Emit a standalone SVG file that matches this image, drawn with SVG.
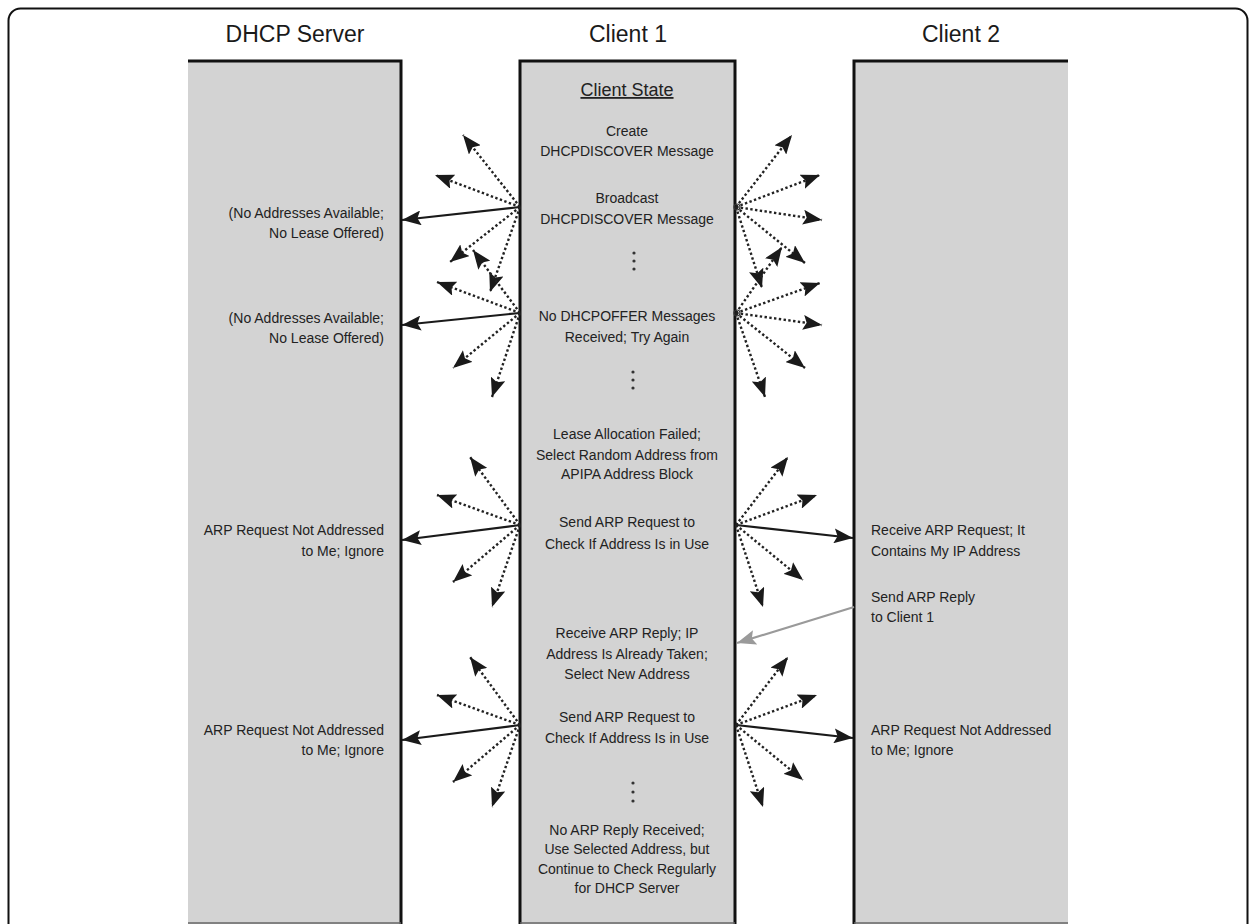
<svg xmlns="http://www.w3.org/2000/svg" width="1250" height="924" viewBox="0 0 1250 924">
<style>
.hdr{font-family:"Liberation Sans",Arial,sans-serif;font-size:23px;fill:#1a1a1a;text-anchor:middle}
.t{font-family:"Liberation Sans",Arial,sans-serif;font-size:14px;fill:#222}
.c{text-anchor:middle}
.r{text-anchor:end}
.l{text-anchor:start}
.col{fill:#d3d3d3}
.bd{stroke:#111;stroke-width:3;fill:none}
.dot{stroke:#222;stroke-width:2.4;stroke-dasharray:2.4 2.4;fill:none}
.sol{stroke:#1a1a1a;stroke-width:2.2;fill:none}
.gry{stroke:#9a9a9a;stroke-width:2.2;fill:none}
.vd{fill:#333}
</style>
<defs>
<marker id="ah" markerUnits="userSpaceOnUse" markerWidth="19" markerHeight="15" viewBox="0 0 19 15" refX="19" refY="7.5" orient="auto">
<path d="M0,0 L19,7.5 L0,15 L3.5,7.5 z" fill="#1a1a1a"/>
</marker>
<marker id="ahg" markerUnits="userSpaceOnUse" markerWidth="19" markerHeight="15" viewBox="0 0 19 15" refX="19" refY="7.5" orient="auto">
<path d="M0,0 L19,7.5 L0,15 L3.5,7.5 z" fill="#9a9a9a"/>
</marker>
</defs>
<rect x="0" y="0" width="1250" height="924" fill="#ffffff"/>
<rect x="8.5" y="8.5" width="1239" height="960" rx="12" fill="none" stroke="#111" stroke-width="2"/>

<g id="dhcp-server">
<rect class="col" x="188" y="61" width="213" height="863"/>
<path class="bd" d="M188,61 H401 V924"/>
<line x1="188" y1="923" x2="401" y2="923" stroke="#666" stroke-width="1.5"/>
<text class="hdr" x="295" y="42">DHCP Server</text>
<text class="t r" x="384" y="218">(No Addresses Available;</text>
<text class="t r" x="384" y="238">No Lease Offered)</text>
<text class="t r" x="384" y="323">(No Addresses Available;</text>
<text class="t r" x="384" y="343">No Lease Offered)</text>
<text class="t r" x="384" y="535">ARP Request Not Addressed</text>
<text class="t r" x="384" y="556">to Me; Ignore</text>
<text class="t r" x="384" y="735">ARP Request Not Addressed</text>
<text class="t r" x="384" y="755">to Me; Ignore</text>
</g>

<g id="client-1">
<rect class="col" x="520" y="61" width="215" height="863"/>
<path class="bd" d="M520,924 V61 H735 V924"/>
<line x1="520" y1="923" x2="735" y2="923" stroke="#666" stroke-width="1.5"/>
<text class="hdr" x="628" y="42">Client 1</text>
<text class="t c" x="627" y="96" style="font-size:18px" text-decoration="underline">Client State</text>
<text class="t c" x="627" y="136">Create</text>
<text class="t c" x="627" y="156">DHCPDISCOVER Message</text>
<text class="t c" x="627" y="203">Broadcast</text>
<text class="t c" x="627" y="224">DHCPDISCOVER Message</text>
<circle class="vd" cx="634" cy="253" r="1.6"/><circle class="vd" cx="634" cy="261" r="1.6"/><circle class="vd" cx="634" cy="269" r="1.6"/>
<text class="t c" x="627" y="321">No DHCPOFFER Messages</text>
<text class="t c" x="627" y="342">Received; Try Again</text>
<circle class="vd" cx="633" cy="372" r="1.6"/><circle class="vd" cx="633" cy="380" r="1.6"/><circle class="vd" cx="633" cy="388" r="1.6"/>
<text class="t c" x="627" y="439">Lease Allocation Failed;</text>
<text class="t c" x="627" y="460">Select Random Address from</text>
<text class="t c" x="627" y="479">APIPA Address Block</text>
<text class="t c" x="627" y="527">Send ARP Request to</text>
<text class="t c" x="627" y="549">Check If Address Is in Use</text>
<text class="t c" x="627" y="638">Receive ARP Reply; IP</text>
<text class="t c" x="627" y="659">Address Is Already Taken;</text>
<text class="t c" x="627" y="679">Select New Address</text>
<text class="t c" x="627" y="722">Send ARP Request to</text>
<text class="t c" x="627" y="743">Check If Address Is in Use</text>
<circle class="vd" cx="633" cy="783" r="1.6"/><circle class="vd" cx="633" cy="792" r="1.6"/><circle class="vd" cx="633" cy="801" r="1.6"/>
<text class="t c" x="627" y="835">No ARP Reply Received;</text>
<text class="t c" x="627" y="854">Use Selected Address, but</text>
<text class="t c" x="627" y="874">Continue to Check Regularly</text>
<text class="t c" x="627" y="893">for DHCP Server</text>
</g>

<g id="client-2">
<rect class="col" x="854" y="61" width="214" height="863"/>
<path class="bd" d="M854,924 V61 H1068"/>
<line x1="854" y1="923" x2="1068" y2="923" stroke="#666" stroke-width="1.5"/>
<text class="hdr" x="961" y="42">Client 2</text>
<text class="t l" x="871" y="535">Receive ARP Request; It</text>
<text class="t l" x="871" y="556">Contains My IP Address</text>
<text class="t l" x="871" y="602">Send ARP Reply</text>
<text class="t l" x="871" y="622">to Client 1</text>
<text class="t l" x="871" y="735">ARP Request Not Addressed</text>
<text class="t l" x="871" y="755">to Me; Ignore</text>
</g>

<g id="connectors">
<line class="sol" x1="520" y1="207" x2="402" y2="220" marker-end="url(#ah)"/>
<line class="dot" x1="520" y1="207" x2="463" y2="135" marker-end="url(#ah)"/>
<line class="dot" x1="520" y1="207" x2="435" y2="175" marker-end="url(#ah)"/>
<line class="dot" x1="520" y1="207" x2="450" y2="262" marker-end="url(#ah)"/>
<line class="dot" x1="520" y1="207" x2="490" y2="292" marker-end="url(#ah)"/>
<circle cx="737" cy="207" r="3" fill="none" stroke="#333" stroke-width="1.2"/>
<line class="dot" x1="736" y1="207" x2="792" y2="135" marker-end="url(#ah)"/>
<line class="dot" x1="736" y1="207" x2="820" y2="175" marker-end="url(#ah)"/>
<line class="dot" x1="736" y1="207" x2="822" y2="220" marker-end="url(#ah)"/>
<line class="dot" x1="736" y1="207" x2="805" y2="263" marker-end="url(#ah)"/>
<line class="dot" x1="736" y1="207" x2="762" y2="288" marker-end="url(#ah)"/>
<line class="sol" x1="520" y1="313" x2="402" y2="325" marker-end="url(#ah)"/>
<line class="dot" x1="520" y1="313" x2="473" y2="250" marker-end="url(#ah)"/>
<line class="dot" x1="520" y1="313" x2="437" y2="282" marker-end="url(#ah)"/>
<line class="dot" x1="520" y1="313" x2="453" y2="368" marker-end="url(#ah)"/>
<line class="dot" x1="520" y1="313" x2="492" y2="397" marker-end="url(#ah)"/>
<circle cx="737" cy="313" r="3" fill="none" stroke="#333" stroke-width="1.2"/>
<line class="dot" x1="736" y1="313" x2="782" y2="247" marker-end="url(#ah)"/>
<line class="dot" x1="736" y1="313" x2="820" y2="283" marker-end="url(#ah)"/>
<line class="dot" x1="736" y1="313" x2="822" y2="325" marker-end="url(#ah)"/>
<line class="dot" x1="736" y1="313" x2="805" y2="368" marker-end="url(#ah)"/>
<line class="dot" x1="736" y1="313" x2="765" y2="397" marker-end="url(#ah)"/>
<line class="sol" x1="520" y1="525" x2="402" y2="540" marker-end="url(#ah)"/>
<line class="dot" x1="520" y1="525" x2="470" y2="457" marker-end="url(#ah)"/>
<line class="dot" x1="520" y1="525" x2="437" y2="495" marker-end="url(#ah)"/>
<line class="dot" x1="520" y1="525" x2="453" y2="582" marker-end="url(#ah)"/>
<line class="dot" x1="520" y1="525" x2="492" y2="607" marker-end="url(#ah)"/>
<line class="sol" x1="736" y1="525" x2="853" y2="538" marker-end="url(#ah)"/>
<line class="dot" x1="736" y1="525" x2="788" y2="457" marker-end="url(#ah)"/>
<line class="dot" x1="736" y1="525" x2="817" y2="495" marker-end="url(#ah)"/>
<line class="dot" x1="736" y1="525" x2="803" y2="580" marker-end="url(#ah)"/>
<line class="dot" x1="736" y1="525" x2="763" y2="607" marker-end="url(#ah)"/>
<line class="gry" x1="854" y1="607" x2="737" y2="643" marker-end="url(#ahg)"/>
<line class="sol" x1="520" y1="725" x2="402" y2="740" marker-end="url(#ah)"/>
<line class="dot" x1="520" y1="725" x2="470" y2="657" marker-end="url(#ah)"/>
<line class="dot" x1="520" y1="725" x2="437" y2="695" marker-end="url(#ah)"/>
<line class="dot" x1="520" y1="725" x2="453" y2="782" marker-end="url(#ah)"/>
<line class="dot" x1="520" y1="725" x2="492" y2="807" marker-end="url(#ah)"/>
<line class="sol" x1="736" y1="725" x2="853" y2="738" marker-end="url(#ah)"/>
<line class="dot" x1="736" y1="725" x2="788" y2="657" marker-end="url(#ah)"/>
<line class="dot" x1="736" y1="725" x2="817" y2="695" marker-end="url(#ah)"/>
<line class="dot" x1="736" y1="725" x2="803" y2="780" marker-end="url(#ah)"/>
<line class="dot" x1="736" y1="725" x2="763" y2="807" marker-end="url(#ah)"/>
</g>
</svg>
